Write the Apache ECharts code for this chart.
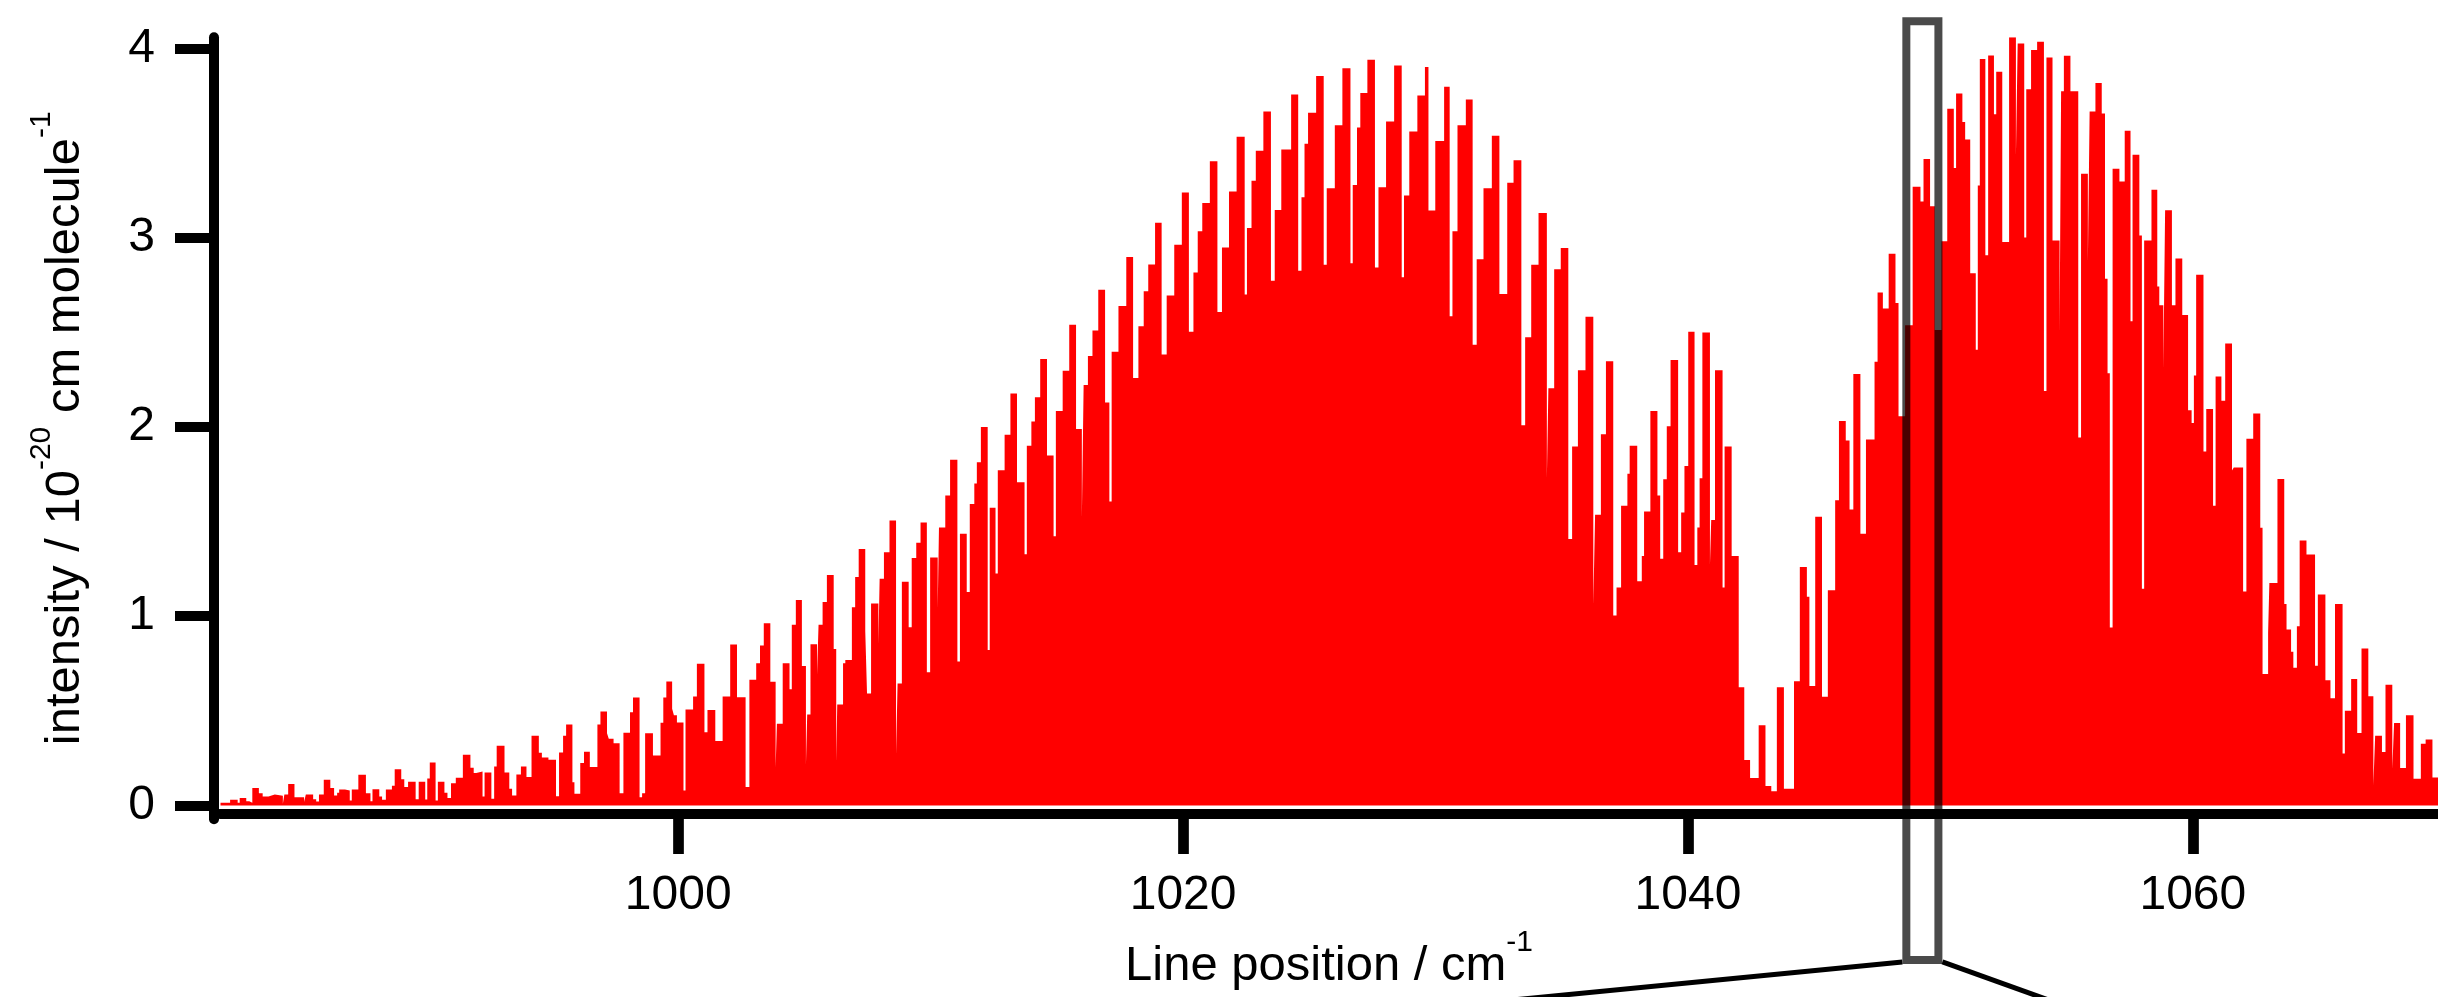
<!DOCTYPE html>
<html>
<head>
<meta charset="utf-8">
<script src="https://cdn.jsdelivr.net/npm/echarts@6/dist/echarts.min.js"></script>
<style>
html,body{margin:0;padding:0;background:#fff;}
#c{width:2438px;height:997px;}
</style>
</head>
<body>
<div id="c"></div>
<script>
// Line position (cm-1, left edge of each stick) and intensity (1e-20 cm/molecule)
const wingLines = [
[981.87,0.014],[982.25,0.030],[982.55,0.014],[982.63,0.039],[982.89,0.023],[983.01,0.014],[983.13,0.092],[983.39,0.065],
[983.54,0.048],[983.77,0.058],[984.02,0.051],[984.34,0.009],[984.40,0.058],[984.55,0.113],[984.80,0.044],[985.18,0.018],
[985.25,0.058],[985.54,0.033],[985.66,0.021],[985.77,0.058],[985.96,0.136],[986.22,0.093],[986.37,0.053],[986.49,0.067],
[986.57,0.085],[986.80,0.079],[986.99,0.026],[987.07,0.085],[987.33,0.162],[987.63,0.065],[987.81,0.023],[987.89,0.086],
[988.16,0.048],[988.27,0.030],[988.42,0.085],[988.66,0.104],[988.77,0.192],[989.03,0.139],[989.15,0.097],[989.30,0.125],
[989.60,0.033],[989.72,0.125],[989.98,0.032],[990.06,0.143],[990.16,0.227],[990.39,0.026],[990.48,0.125],[990.74,0.067],
[990.86,0.039],[991.00,0.118],[991.19,0.146],[991.47,0.268],[991.77,0.199],[991.90,0.171],[992.00,0.180],[992.25,0.048],
[992.33,0.174],[992.60,0.035],[992.71,0.206],[992.81,0.315],[993.12,0.174],[993.31,0.088],[993.42,0.053],[993.59,0.164],
[993.77,0.206],[993.99,0.150],[994.19,0.368],[994.48,0.278],[994.60,0.254],[994.86,0.241],[995.16,0.049],[995.28,0.280],
[995.44,0.368],[995.56,0.428],[995.81,0.123],[995.89,0.062],[996.12,0.224],[996.27,0.284],[996.50,0.203],[996.80,0.428],
[996.92,0.497],[997.18,0.382],[997.25,0.352],[997.44,0.329],[997.68,0.065],[997.83,0.384],[998.09,0.493],[998.21,0.571],
[998.47,0.044],[998.57,0.065],[998.69,0.382],[999.00,0.264],[999.30,0.437],[999.41,0.571],[999.53,0.655],[999.76,0.511],
[999.83,0.476],[999.95,0.439],[1000.21,0.079],[1000.29,0.507],[1000.59,0.576],[1000.74,0.749],[1001.04,0.387],[1001.16,0.505],
[1001.47,0.340],[1001.76,0.576],[1002.06,0.851],[1002.33,0.572],[1002.67,0.097],[1002.82,0.664],[1003.09,0.752],[1003.24,0.845],
[1003.39,0.963]
];
const pBranchLines = [
[1003.65,0.653],[1003.86,0.200],[1003.91,0.432],[1004.14,0.751],[1004.41,0.614],[1004.50,0.955],[1004.66,1.086],[1004.90,0.737],
[1005.06,0.214],[1005.11,0.480],[1005.24,0.852],[1005.50,0.690],[1005.56,0.955],[1005.72,1.075],[1005.89,1.218],[1006.16,0.827],
[1006.26,0.228],[1006.30,0.533],[1006.53,0.751],[1006.62,0.768],[1006.88,1.047],[1007.01,1.207],[1007.15,1.355],[1007.41,0.922],
[1007.48,0.592],[1007.64,1.067],[1007.93,0.852],[1007.98,1.198],[1008.15,1.338],[1008.37,1.506],[1008.63,0.270],[1008.69,0.645],
[1008.86,1.182],[1009.13,0.941],[1009.25,1.307],[1009.43,1.388],[1009.60,1.495],[1009.85,0.704],[1009.98,1.310],[1010.28,1.039],
[1010.33,1.469],[1010.58,1.637],[1010.77,1.827],[1011.06,0.760],[1011.16,1.436],[1011.43,1.128],[1011.55,1.592],[1011.73,1.701],
[1011.83,1.813],[1011.99,2.000],[1012.26,0.821],[1012.34,1.573],[1012.57,1.226],[1012.66,1.771],[1012.93,1.958],[1013.16,2.176],
[1013.42,1.707],[1013.72,1.327],[1013.81,1.900],[1013.99,2.028],[1014.13,2.157],[1014.34,2.358],[1014.61,1.849],[1014.87,1.422],
[1014.96,2.084],[1015.23,2.297],[1015.49,2.540],[1015.76,1.989],[1015.99,1.514],[1016.06,2.221],[1016.23,2.375],[1016.41,2.509],
[1016.64,2.724],[1016.91,2.129],[1017.08,1.606],[1017.17,2.397],[1017.44,2.638],[1017.75,2.898],[1018.02,2.258],[1018.23,2.531],
[1018.44,2.716],[1018.62,2.858],[1018.89,3.079],[1019.15,2.383],[1019.35,2.694],[1019.65,2.962],[1019.95,3.238],[1020.23,2.503],
[1020.41,2.816],[1020.58,3.034],[1020.76,3.183],[1021.06,3.403],[1021.36,2.607],[1021.54,2.948],[1021.82,3.244],[1022.12,3.532],
[1022.44,2.699],[1022.53,3.051],[1022.71,3.300],[1022.88,3.459],[1023.18,3.666],[1023.48,2.772],[1023.63,3.146],[1023.89,3.465],
[1024.28,3.756],[1024.56,2.825],[1024.69,3.213],[1024.81,3.496],[1024.95,3.660],[1025.27,3.853],[1025.57,2.856],[1025.69,3.261],
[1026.01,3.593],[1026.31,3.895],[1026.63,2.864],[1026.72,3.278],[1026.89,3.582],[1027.02,3.764],[1027.30,3.940],[1027.60,2.842],
[1027.74,3.266],[1028.04,3.613],[1028.36,3.909],[1028.66,2.791],[1028.75,3.222],[1028.96,3.560],[1029.28,3.750],[1029.58,3.901],
[1029.72,3.143],[1029.99,3.510],[1030.34,3.797],[1030.56,2.585],[1030.67,3.034],[1030.87,3.593],[1031.20,3.730],[1031.47,2.434],
[1031.63,2.886],[1031.90,3.261],[1032.23,3.538],[1032.53,2.702],[1032.84,3.289],[1033.09,3.409],[1033.40,2.009],[1033.55,2.473],
[1033.79,2.856],[1034.08,3.130],[1034.41,1.729],[1034.47,2.204],[1034.70,2.833],[1034.96,2.945],[1035.26,1.408],[1035.41,1.897],
[1035.64,2.299],[1035.94,2.582],[1036.25,1.058],[1036.32,1.536],[1036.55,1.961],[1036.75,2.347],[1037.04,1.003],[1037.17,1.151],
[1037.35,1.584],[1037.60,1.752],[1037.69,1.900],[1037.99,1.184],[1038.17,1.318],[1038.26,1.553],[1038.51,2.084],[1038.79,1.637],
[1038.90,1.304],[1039.02,1.724],[1039.16,2.003],[1039.31,2.353],[1039.61,1.338],[1039.73,1.548],[1039.86,1.794],[1040.01,2.503],
[1040.26,1.271],[1040.37,1.469],[1040.46,1.729],[1040.57,2.498],[1040.87,1.271],[1040.92,1.508],[1041.07,2.299],[1041.37,1.151],
[1041.45,1.897],[1041.73,1.318]
];
const bandCentreLines = [
[1042.01,0.625],[1042.23,0.240],[1042.46,0.145],[1042.80,0.424],[1043.07,0.103],[1043.30,0.075],[1043.52,0.625],[1043.80,0.089],
[1044.20,0.656],[1044.43,1.260],[1044.71,1.103],[1044.81,0.631],[1045.04,1.525],[1045.31,0.575],[1045.54,1.137]
];
const rBranchLines = [
[1045.83,1.612],[1045.98,2.031],[1046.25,1.928],[1046.40,1.564],[1046.55,2.280],[1046.83,1.436],[1047.05,1.933],[1047.39,2.344],
[1047.51,2.710],[1047.72,2.626],[1047.95,2.914],[1048.22,2.654],[1048.34,2.056],[1048.60,2.537],[1048.90,3.269],[1049.21,3.191],
[1049.33,3.415],[1049.59,3.166],[1049.78,2.512],[1050.04,2.981],[1050.27,3.680],[1050.53,3.367],[1050.62,3.761],[1050.87,3.610],
[1050.98,3.518],[1051.18,2.811],[1051.40,2.408],[1051.48,3.275],[1051.56,3.943],[1051.78,2.906],[1051.89,3.962],[1052.12,3.652],
[1052.21,3.876],[1052.45,2.977],[1052.72,4.058],[1052.99,3.431],[1053.06,4.025],[1053.32,3.001],[1053.40,3.783],[1053.59,3.991],
[1053.83,4.035],[1054.10,2.189],[1054.20,3.951],[1054.44,2.984],[1054.72,2.491],[1054.78,3.773],[1054.89,3.961],[1055.15,3.773],
[1055.46,1.944],[1055.57,3.337],[1055.84,2.870],[1055.91,3.666],[1056.14,3.817],[1056.39,3.656],[1056.52,2.783],[1056.62,2.283],
[1056.71,0.940],[1056.82,3.363],[1057.09,3.296],[1057.30,3.565],[1057.53,2.558],[1057.61,3.437],[1057.88,3.011],[1057.98,1.145],
[1058.07,2.984],[1058.36,3.253],[1058.59,2.742],[1058.67,2.642],[1058.83,2.306],[1058.90,3.145],[1059.17,2.642],[1059.31,2.890],
[1059.58,2.591],[1059.81,2.088],[1059.95,2.021],[1060.04,2.272],[1060.13,2.803],[1060.42,1.870],[1060.53,2.095],[1060.80,1.584],
[1060.90,2.266],[1061.13,2.138],[1061.28,2.440],[1061.55,1.769],[1061.62,1.786],[1061.99,1.131],[1062.12,1.937],[1062.39,2.071],
[1062.67,1.467],[1062.76,0.695],[1062.98,0.913],[1063.03,1.175],[1063.35,1.725],[1063.62,1.064],[1063.71,0.930],[1063.89,0.812],
[1063.98,0.728],[1064.12,0.947],[1064.23,1.400],[1064.50,1.326],[1064.84,0.738],[1064.95,1.114],[1065.25,0.661],[1065.45,0.567],
[1065.63,1.064],[1065.93,0.275],[1066.02,0.500],[1066.27,0.668],[1066.51,0.383],[1066.68,0.829],[1066.95,0.577],[1067.15,0.107],
[1067.22,0.369],[1067.49,0.282],[1067.63,0.638],[1067.90,0.191],[1067.97,0.436],[1068.21,0.198],[1068.44,0.477],[1068.74,0.141],
[1069.03,0.326],[1069.22,0.349],[1069.49,0.148],[1069.71,0.148]
];
const xTicks = [1000, 1020, 1040, 1060];
const yTicks = [0, 1, 2, 3, 4];
const xRange = [981.85, 1069.71];
const yRange = [-0.073, 4.058];
const zoomWindow = [1048.65, 1049.92];   // boxed region (cm-1)
const zoomWindowY = [4.143, -0.816];     // box top / bottom in intensity units

const spectrum = wingLines.concat(pBranchLines, bandCentreLines, rBranchLines);

const FONT = 'Liberation Sans, Arial, Helvetica, sans-serif';
const richTitle = {
  m: {fontSize: 49, fontFamily: FONT, color: '#000', lineHeight: 76},
  s: {fontSize: 30, fontFamily: FONT, color: '#000', lineHeight: 30, verticalAlign: 'top'}
};
const plain = v => String(v);

const chart = echarts.init(document.getElementById('c'), null, {renderer: 'canvas'});
chart.setOption({
  animation: false,
  backgroundColor: '#fff',
  grid: {left: 220, right: 0, top: 37.3, bottom: 177.7, containLabel: false},
  xAxis: {
    type: 'value', min: xRange[0], max: xRange[1], position: 'bottom', offset: -5.3,
    axisLine: {show: true, onZero: false, lineStyle: {color: '#000', width: 10}},
    axisTick: {show: true, customValues: xTicks, length: 40, lineStyle: {color: '#000', width: 10.7}},
    axisLabel: {customValues: xTicks, formatter: plain, margin: 58, fontSize: 48, color: '#000', fontFamily: FONT},
    splitLine: {show: false},
    name: '{m|Line position / cm}{s|-1}',
    nameLocation: 'middle', nameGap: 114,
    nameTextStyle: {rich: richTitle}
  },
  yAxis: {
    type: 'value', min: yRange[0], max: yRange[1], position: 'left', offset: 6,
    axisLine: {show: true, onZero: false, lineStyle: {color: '#000', width: 10}},
    axisTick: {show: true, customValues: yTicks, length: 39, lineStyle: {color: '#000', width: 10}},
    axisLabel: {customValues: yTicks, formatter: plain, margin: 59, fontSize: 48, color: '#000', fontFamily: FONT},
    splitLine: {show: false},
    name: '{m|intensity / 10}{s|-20}{m| cm molecule}{s|-1}',
    nameLocation: 'middle', nameGap: 111, nameRotate: 90,
    nameTextStyle: {rich: richTitle}
  },
  series: [{
    type: 'line',
    data: spectrum,
    step: 'end',
    showSymbol: false,
    symbol: 'none',
    silent: true,
    clip: true,
    lineStyle: {width: 0, color: '#ff0000'},
    areaStyle: {color: '#ff0000', opacity: 1, origin: 'auto'},
    z: 2
  }]
});

const p0 = chart.convertToPixel({gridIndex: 0}, [zoomWindow[0], zoomWindowY[0]]);
const p1 = chart.convertToPixel({gridIndex: 0}, [zoomWindow[1], zoomWindowY[1]]);
const bw = 8;
const blX = p0[0] - bw / 2, brX = p1[0] + bw / 2, bY = p1[1] + 2;
chart.setOption({
  graphic: [
    {type: 'rect', z: 100, silent: true,
     shape: {x: p0[0], y: p0[1], width: p1[0] - p0[0], height: p1[1] - p0[1]},
     style: {fill: 'none', stroke: 'rgba(0,0,0,0.71)', lineWidth: bw}},
    {type: 'line', z: 100, silent: true,
     shape: {x1: blX, y1: bY, x2: blX - 420, y2: bY + 41},
     style: {stroke: '#000', lineWidth: 5}},
    {type: 'line', z: 100, silent: true,
     shape: {x1: brX, y1: bY, x2: brX + 120, y2: bY + 43},
     style: {stroke: '#000', lineWidth: 5}}
  ]
});
</script>
</body>
</html>
